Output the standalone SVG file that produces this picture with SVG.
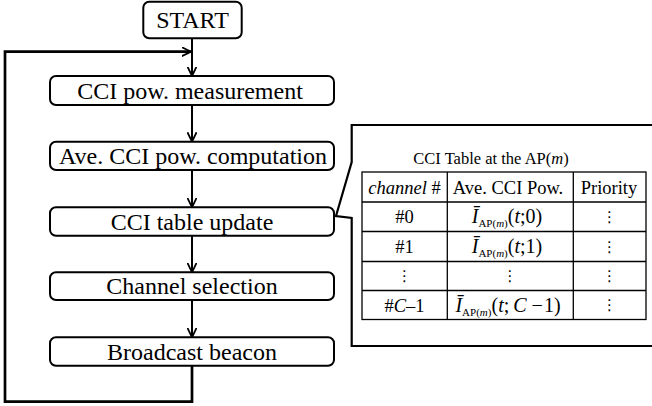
<svg xmlns="http://www.w3.org/2000/svg" width="652" height="406" viewBox="0 0 652 406">
<defs>
<marker id="arr" viewBox="0 0 10 10" refX="9.5" refY="5" markerWidth="10" markerHeight="10" markerUnits="userSpaceOnUse" orient="auto">
<path d="M0,0.4 L9.5,5 L0,9.6" fill="none" stroke="#000" stroke-width="1.8"/>
</marker>
</defs>
<style>
.box{fill:#fff;stroke:#000;stroke-width:2}
.lbl{font-family:"Liberation Serif","Times New Roman",serif;font-size:24px;fill:#000;text-anchor:middle}
.con{fill:none;stroke:#000;stroke-width:2}
.loop{fill:none;stroke:#000;stroke-width:2.7}
.tl{stroke:#000;stroke-width:1.3;fill:none}
.ttl{font-family:"Liberation Serif","Times New Roman",serif;font-size:16.5px;fill:#000;text-anchor:middle}
.tt{font-family:"Liberation Serif","Times New Roman",serif;font-size:18.5px;fill:#000;text-anchor:middle}
.fm{font-family:"Liberation Serif","Times New Roman",serif;font-size:20px;fill:#000;text-anchor:middle}
.sub{font-size:11px}
.dots{font-family:"DejaVu Serif","DejaVu Sans",serif;font-size:15px;fill:#000;text-anchor:middle}
.i{font-style:italic}
</style>
<g id="connectors">
<line class="con" x1="192" y1="38.3" x2="192" y2="76" marker-end="url(#arr)"/>
<line class="con" x1="192" y1="105" x2="192" y2="141.7" marker-end="url(#arr)"/>
<line class="con" x1="192" y1="170" x2="192" y2="207.3" marker-end="url(#arr)"/>
<line class="con" x1="192" y1="235.7" x2="192" y2="272.3" marker-end="url(#arr)"/>
<line class="con" x1="192" y1="300" x2="192" y2="337.3" marker-end="url(#arr)"/>
<polyline class="loop" points="192,365.7 192,401.7 5,401.7 5,51.7 191,51.7" marker-end="url(#arr)"/>
</g>
<g id="start">
<rect class="box" x="143.3" y="1.7" width="98.4" height="36.6" rx="6"/>
<text class="lbl" x="192.5" y="28.3">START</text>
</g>
<g id="measure">
<rect class="box" x="50" y="76" width="284" height="29" rx="6"/>
<text class="lbl" x="190" y="98.8">CCI pow. measurement</text>
</g>
<g id="compute">
<rect class="box" x="50" y="141.7" width="284" height="28.3" rx="6"/>
<text class="lbl" x="193" y="164.3">Ave. CCI pow. computation</text>
</g>
<g id="update">
<rect class="box" x="50" y="207.3" width="284" height="28.4" rx="6"/>
<text class="lbl" x="192" y="229.8">CCI table update</text>
</g>
<g id="select">
<rect class="box" x="50" y="272.3" width="284" height="27.7" rx="6"/>
<text class="lbl" x="192" y="294.3">Channel selection</text>
</g>
<g id="beacon">
<rect class="box" x="50" y="337.3" width="284" height="28.4" rx="6"/>
<text class="lbl" x="192" y="359.8">Broadcast beacon</text>
</g>
<g id="table-callout">
<path d="M660,125 L351.7,125 L351.7,162 L336,216 L351.7,218 L351.7,346 L660,346" fill="#fff" stroke="#000" stroke-width="2.2"/>
<text class="ttl" x="491" y="164">CCI Table at the AP(<tspan class="i">m</tspan>)</text>
<rect class="tl" x="362" y="172" width="284" height="147.5"/>
<line class="tl" x1="362" y1="202" x2="646" y2="202"/>
<line class="tl" x1="362" y1="231.5" x2="646" y2="231.5"/>
<line class="tl" x1="362" y1="261.5" x2="646" y2="261.5"/>
<line class="tl" x1="362" y1="290.5" x2="646" y2="290.5"/>
<line class="tl" x1="447.3" y1="172" x2="447.3" y2="319.5"/>
<line class="tl" x1="573.3" y1="172" x2="573.3" y2="319.5"/>
<text class="tt" x="404.5" y="193.5"><tspan class="i">channel</tspan> #</text>
<text class="tt" x="508" y="193.5">Ave. CCI Pow.</text>
<text class="tt" x="609" y="193.5">Priority</text>
<text class="tt" x="404.5" y="223">#0</text>
<text class="tt" x="404.5" y="252.5">#1</text>
<text class="dots" x="404.5" y="281">⋮</text>
<text class="tt" x="404.5" y="311.5">#<tspan class="i">C</tspan>–1</text>
<text class="fm" x="507" y="223"><tspan class="i">Ī</tspan><tspan class="sub" dy="4">AP(<tspan class="i">m</tspan>)</tspan><tspan dy="-4">(<tspan class="i">t</tspan>;0)</tspan></text>
<text class="fm" x="507" y="252.5"><tspan class="i">Ī</tspan><tspan class="sub" dy="4">AP(<tspan class="i">m</tspan>)</tspan><tspan dy="-4">(<tspan class="i">t</tspan>;1)</tspan></text>
<text class="dots" x="510" y="281">⋮</text>
<text class="fm" x="508" y="311.5"><tspan class="i">Ī</tspan><tspan class="sub" dy="4">AP(<tspan class="i">m</tspan>)</tspan><tspan dy="-4">(<tspan class="i">t</tspan>;</tspan><tspan class="i" dx="4">C</tspan><tspan dx="5">−</tspan><tspan dx="1">1)</tspan></text>
<text class="dots" x="609.5" y="222">⋮</text>
<text class="dots" x="609.5" y="251.5">⋮</text>
<text class="dots" x="609.5" y="281">⋮</text>
<text class="dots" x="609.5" y="310">⋮</text>
</g>
</svg>
